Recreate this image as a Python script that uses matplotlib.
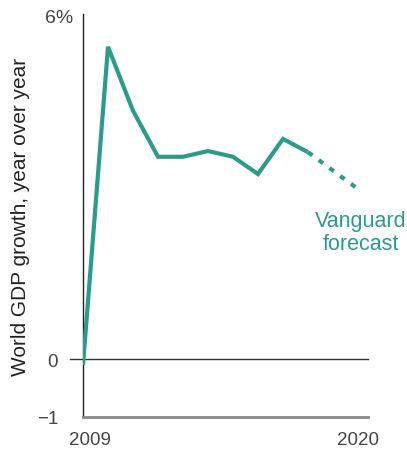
import matplotlib.pyplot as plt
from matplotlib.transforms import ScaledTranslation

plt.rcParams['font.family'] = ['Liberation Sans', 'DejaVu Sans']

# actual growth, %
years = [2009, 2010, 2011, 2012, 2013, 2014, 2015, 2016, 2017, 2018]
growth = [-0.1, 5.43, 4.32, 3.52, 3.52, 3.62, 3.52, 3.22, 3.83, 3.6]

# forecast
fc_years = [2018, 2019, 2020]
fc_growth = [3.6, 3.28, 2.96]

teal = '#2a9d89'
grey_txt = '#444444'

fig = plt.figure(figsize=(4.07, 4.52), dpi=100)
ax = fig.add_axes([83 / 407, 34 / 452, 285 / 407, 403 / 452])

ax.plot(years, growth, color=teal, lw=3, solid_joinstyle='miter', solid_capstyle='butt', zorder=3)
ax.plot(fc_years, fc_growth, color=teal, lw=3, dashes=(1.3, 1.9), dash_capstyle='butt', zorder=3)

ax.set_xlim(2009, 2020.4)
ax.set_ylim(-1, 6)

for s in ['top', 'right']:
    ax.spines[s].set_visible(False)
ax.spines['left'].set_color('#222222')
ax.spines['left'].set_linewidth(1)
ax.spines['bottom'].set_color('#888888')
ax.spines['bottom'].set_linewidth(2)

# zero line, sticking out a bit to the left
ax.axhline(0, xmin=-0.046, xmax=1, color='#333333', lw=1, clip_on=False, zorder=2)

ax.set_yticks([-1, 0])
ax.set_yticklabels(['\u22121', '0'])
ax.tick_params(axis='y', length=0, pad=18, labelsize=13.5, labelcolor=grey_txt)
ax.text(-0.035, 5.94, '6%', transform=ax.get_yaxis_transform(), ha='right', va='center',
        fontsize=14, color=grey_txt)

ax.set_xticks([2009, 2020])
ax.set_xticklabels(['2009', '2020'])
ax.tick_params(axis='x', length=0, pad=10, labelsize=13.5, labelcolor=grey_txt)
# first year label sits a little to the right of the spine
lab = ax.get_xticklabels()[0]
lab.set_transform(lab.get_transform() + ScaledTranslation(7 / 100, 0, fig.dpi_scale_trans))

ax.set_ylabel('World GDP growth, year over year', fontsize=15, color='#222222')
ax.yaxis.set_label_coords(-0.185, 0.5)

ax.text(2020.1, 2.6, 'Vanguard\nforecast', ha='center', va='top', fontsize=15.5,
        color=teal, linespacing=1.15)

fig.savefig('out.png', dpi=100)
